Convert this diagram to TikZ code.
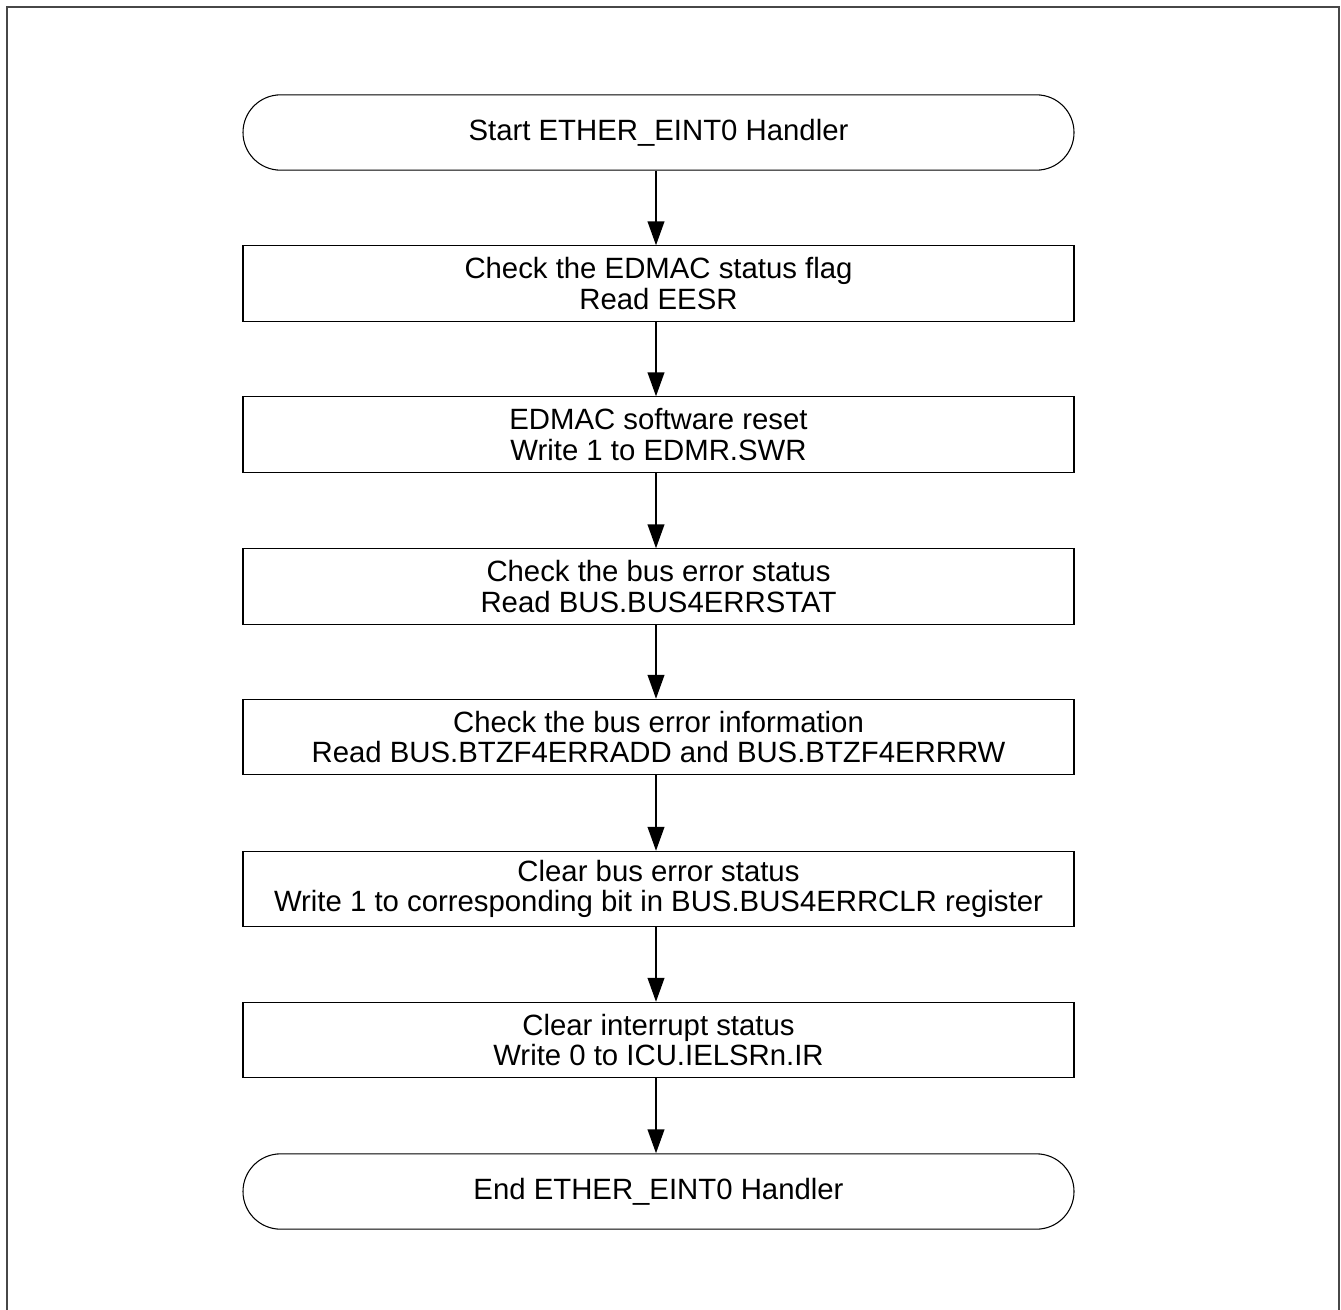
\documentclass[tikz,border=0pt]{standalone}
\usepackage{fontspec}
\setmainfont{Liberation Sans}
\usetikzlibrary{arrows.meta}
\begin{document}
\begin{tikzpicture}[x=0.75pt,y=-0.75pt,
  box/.style={draw=black,line width=0.8pt,minimum width=623.25pt,minimum height=56.5pt,inner sep=0pt,align=center,font=\fontsize{22}{22.6}\selectfont},
  term/.style={box,rounded corners=28.2pt},
  flow/.style={draw=black,line width=1.5pt,-{Triangle[length=18pt,width=12.5pt]}}]
\useasboundingbox (0,0) rectangle (1341,1309);
\draw[line width=1.6pt,draw=black!72] (7,1312) -- (7,7) -- (1339,7) -- (1339,1312);
\node[term] (s) at (658.5,132.5) {Start ETHER\_EINT0 Handler};
\node[box] (b1) at (658.5,283.5) {Check the EDMAC status flag\\Read EESR};
\node[box] (b2) at (658.5,434.5) {EDMAC software reset\\Write 1 to EDMR.SWR};
\node[box] (b3) at (658.5,586.5) {Check the bus error status\\Read BUS.BUS4ERRSTAT};
\node[box] (b4) at (658.5,737) {Check the bus error information\\Read BUS.BTZF4ERRADD and BUS.BTZF4ERRRW};
\node[box] (b5) at (658.5,889) {Clear bus error status\\Write 1 to corresponding bit in BUS.BUS4ERRCLR register};
\node[box] (b6) at (658.5,1040) {Clear interrupt status\\Write 0 to ICU.IELSRn.IR};
\node[term] (e) at (658.5,1191.5) {End ETHER\_EINT0 Handler};
\draw[flow] (s.south -| 656,0) -- (b1.north -| 656,0);
\draw[flow] (b1.south -| 656,0) -- (b2.north -| 656,0);
\draw[flow] (b2.south -| 656,0) -- (b3.north -| 656,0);
\draw[flow] (b3.south -| 656,0) -- (b4.north -| 656,0);
\draw[flow] (b4.south -| 656,0) -- (b5.north -| 656,0);
\draw[flow] (b5.south -| 656,0) -- (b6.north -| 656,0);
\draw[flow] (b6.south -| 656,0) -- (e.north -| 656,0);
\end{tikzpicture}
\end{document}
